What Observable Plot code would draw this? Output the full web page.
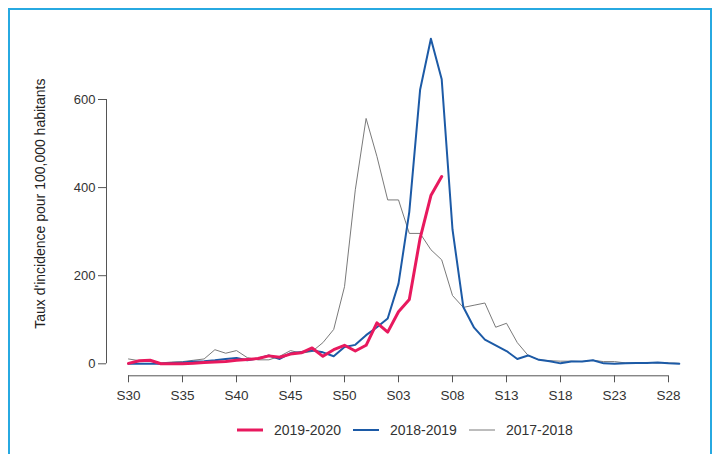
<!DOCTYPE html>
<html>
<head>
<meta charset="utf-8">
<script src="https://cdn.jsdelivr.net/npm/d3@7"></script>
<script src="https://cdn.jsdelivr.net/npm/@observablehq/plot@0.6"></script>
<style>
  body { margin: 0; background: #fff; font-family: "Liberation Sans", Arial, sans-serif; }
  #wrap { position: relative; width: 716px; height: 454px; overflow: hidden; background: #fff; }
  #frame { position: absolute; left: 8px; top: 8px; width: 704px; height: 470px; border: 2px solid #27a9e1; box-sizing: border-box; }
  #chart { position: absolute; left: 0; top: 0; }
  #legend { position: absolute; top: 422px; left: 237px; display: flex; align-items: center; font-size: 14px; color: #333; }
  .item { display: flex; align-items: center; margin-right: 12px; }
  .item svg { margin-right: 11px; }
</style>
</head>
<body>
<div id="wrap">
  <div id="frame"></div>
  <div id="chart"></div>
  <div id="legend"></div>
</div>
<script>
// Week labels (x categories)
const weeks = ["S30","S31","S32","S33","S34","S35","S36","S37","S38","S39","S40","S41","S42","S43","S44","S45","S46","S47","S48","S49","S50","S51","S52",
  "S01","S02","S03","S04","S05","S06","S07","S08","S09","S10","S11","S12","S13","S14","S15","S16","S17","S18","S19","S20","S21","S22","S23","S24","S25","S26","S27","S28","S29"];
const tickWeeks = ["S30","S35","S40","S45","S50","S03","S08","S13","S18","S23","S28"];
const yTicks = [0, 200, 400, 600];

const seasons = ["2019-2020", "2018-2019", "2017-2018"];
const colors = ["#e8195e", "#1c5aa6", "#7a7a7a"];
const widths = [3, 2, 1];

// Values (incidence per 100,000)
const v2019_2020 = [1,7,8,0,0,0,1,3,4,5,8,10,12,18,15,22,25,36,17,32,42,29,42,93,72,118,146,285,382,425];
const v2018_2019 = [0,0,0,0,2,3,5,6,8,11,13,8,12,19,11,24,27,30,26,17,38,43,65,83,103,182,345,622,738,646,305,129,82,55,42,29,11,19,9,6,1,5,5,8,1,0,1,2,2,3,1,0];
const v2017_2018 = [11,7,7,2,4,5,8,11,32,24,30,14,9,9,17,30,24,28,48,78,175,395,557,471,372,372,296,296,259,236,155,128,133,138,83,92,48,19,9,7,6,6,5,8,5,5,2,2,3,2,2,1];

const seriesValues = [v2019_2020, v2018_2019, v2017_2018];
const rowsOf = (vals, s) => vals.map((v, i) => ({i, week: weeks[i], v, season: s}));
const tickIdx = tickWeeks.map(w => weeks.indexOf(w));

const lineMarks = [2, 1, 0].map(k =>
  Plot.line(rowsOf(seriesValues[k], seasons[k]), {x: "i", y: "v", stroke: colors[k], strokeWidth: widths[k], strokeLinejoin: "round"})
);

const chart = Plot.plot({
  width: 716,
  height: 410,
  marginLeft: 128,
  marginRight: 48,
  marginTop: 99,
  marginBottom: 46.7,
  style: {fontFamily: "'Liberation Sans', Arial, sans-serif", background: "transparent", overflow: "visible", color: "#333"},
  x: {domain: [d3.min(tickIdx), d3.max(tickIdx)]},
  y: {domain: [d3.min(yTicks), d3.max(yTicks)]},
  marks: [
    Plot.ruleX([d3.min(tickIdx)], {y1: d3.min(yTicks), y2: d3.max(yTicks), dx: -22, stroke: "#555"}),
    Plot.axisY(yTicks, {tickSize: 8, tickPadding: 3, dx: -22, fontSize: 13, label: null, stroke: "#555", fill: "#333"}),
    Plot.ruleY([d3.min(yTicks)], {x1: d3.min(tickIdx), x2: d3.max(tickIdx), dy: 12, stroke: "#555"}),
    Plot.axisX(tickIdx, {tickFormat: i => weeks[i], tickSize: 7, tickPadding: 8, dy: 12, fontSize: 13.5, label: null, stroke: "#555", fill: "#333"}),
    Plot.text(["Taux d'incidence pour 100,000 habitants"], {frameAnchor: "left", textAnchor: "middle", dx: -88, dy: -28, rotate: -90, fontSize: 14, fill: "#222"}),
    ...lineMarks
  ]
});
document.getElementById("chart").appendChild(chart);

// Legend
const legend = document.getElementById("legend");
seasons.forEach((s, k) => {
  const item = document.createElement("div");
  item.className = "item";
  item.innerHTML = `<svg width="26" height="8"><line x1="0" x2="26" y1="4" y2="4" stroke="${colors[k]}" stroke-width="${widths[k]}"/></svg><span>${s}</span>`;
  legend.appendChild(item);
});
</script>
</body>
</html>
